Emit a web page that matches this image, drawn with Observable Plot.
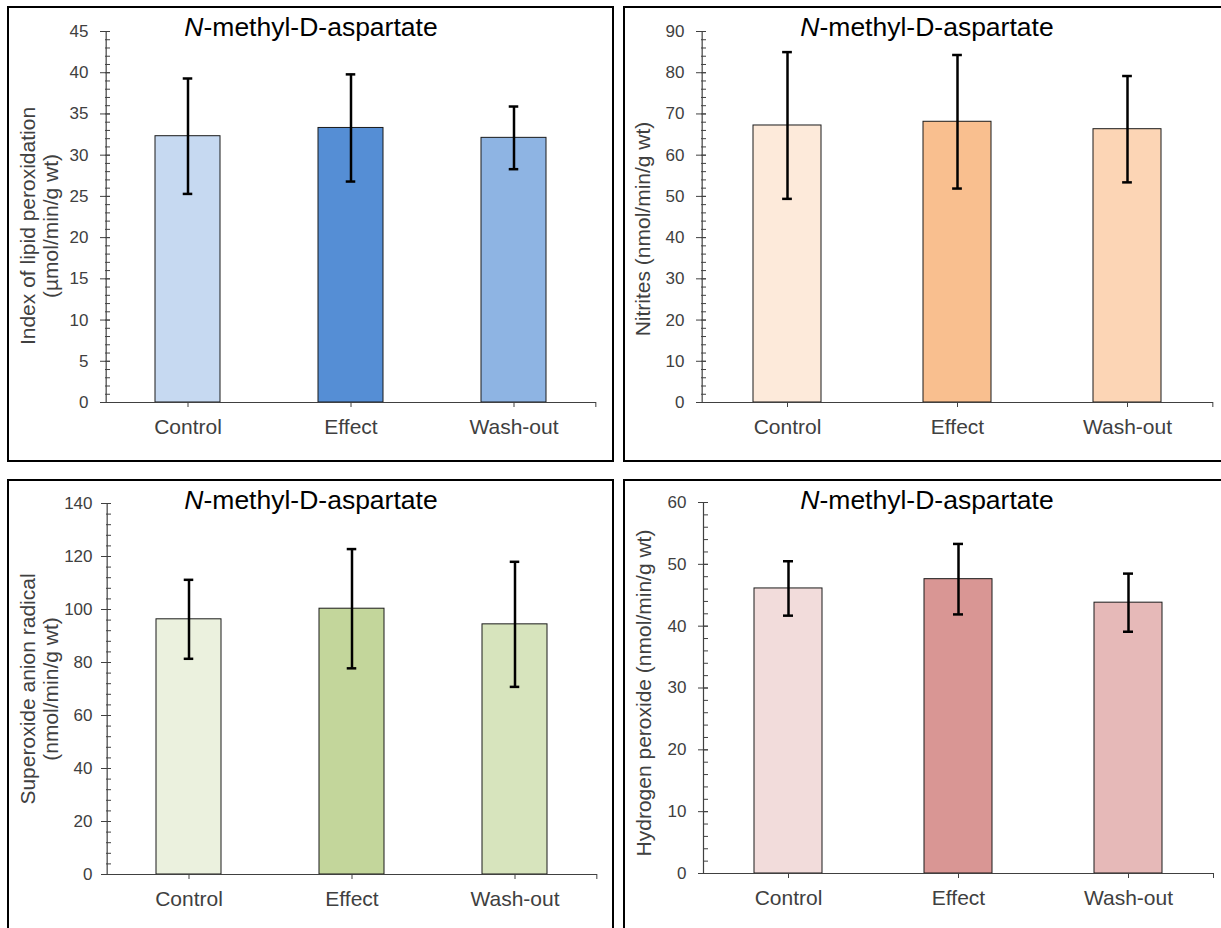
<!DOCTYPE html>
<html>
<head>
<meta charset="utf-8">
<script src="https://cdn.jsdelivr.net/npm/d3@7"></script>
<script src="https://cdn.jsdelivr.net/npm/@observablehq/plot@0.6"></script>
<style>
  html, body { margin: 0; padding: 0; background: #fff; }
  body { width: 1221px; height: 928px; overflow: hidden; position: relative;
         font-family: "Liberation Sans", Arial, sans-serif; }
  .panel { position: absolute; border: 2px solid #000; box-sizing: border-box; background: #fff; }
  .panel svg { position: absolute; left: 0; top: 0; }
  .title { position: absolute; left: 0; width: 604px; top: 6px; text-align: center;
           font-size: 26.5px; line-height: 26px; color: #000; z-index: 2; }
</style>
</head>
<body>
<div id="tl" class="panel" style="left:7px;top:6px;width:607px;height:456px"></div>
<div id="tr" class="panel" style="left:623px;top:6px;width:602px;height:456px"></div>
<div id="bl" class="panel" style="left:7px;top:479px;width:607px;height:456px"></div>
<div id="br" class="panel" style="left:623px;top:479px;width:602px;height:456px"></div>
<script>
// ---- data ----
const categories = ["Control", "Effect", "Wash-out"];

const lipidMeans = [32.3, 33.3, 32.1];
const lipidErrors = [7.0, 6.5, 3.8];

const nitriteMeans = [67.2, 68.1, 66.3];
const nitriteErrors = [17.8, 16.2, 12.9];

const superoxideMeans = [96.3, 100.3, 94.4];
const superoxideErrors = [14.9, 22.5, 23.6];

const peroxideMeans = [46.1, 47.6, 43.8];
const peroxideErrors = [4.4, 5.7, 4.7];

const chartTitle = "-methyl-D-aspartate";

// ---- styles ----
const bluePalette = ["#C6D9F1", "#558ED5", "#8EB4E3"];
const orangePalette = ["#FDEADA", "#F9BF8F", "#FCD5B5"];
const greenPalette = ["#EBF1DE", "#C3D69B", "#D7E4BD"];
const redPalette = ["#F2DCDB", "#D99694", "#E6B9B8"];

const axisColor = "#404040";
const font = '"Liberation Sans", Arial, sans-serif';

function drawPanel(cfg) {
  const el = document.getElementById(cfg.id);
  const W = cfg.width, H = 452;
  const rows = categories.map((c, i) => ({cat: c, mean: cfg.means[i], err: cfg.errors[i]}));
  const plotW = W - cfg.ml - cfg.mr;
  const step = plotW / categories.length;
  const capInset = (step * 0.4 - 10) / 2;
  const majors = d3.range(0, cfg.yMax + 1e-9, cfg.major);
  const minors = d3.range(0, cfg.yMax + 1e-9, cfg.major / 5);

  const chart = Plot.plot({
    width: W, height: H,
    marginLeft: cfg.ml, marginRight: cfg.mr, marginTop: cfg.mt, marginBottom: cfg.mb,
    style: {fontFamily: font, background: "transparent", overflow: "visible"},
    x: {domain: categories, paddingInner: 0.6, paddingOuter: 0.3},
    y: {domain: [0, cfg.yMax]},
    color: {domain: categories, range: cfg.palette},
    marks: [
      Plot.barY(rows, {x: "cat", y: "mean", fill: "cat", stroke: "#1a1a1a", strokeWidth: 1}),
      Plot.ruleX(rows, {x: "cat", y1: d => d.mean - d.err, y2: d => d.mean + d.err, stroke: "#000", strokeWidth: 2.5}),
      Plot.tickY(rows, {x: "cat", y: d => d.mean + d.err, insetLeft: capInset, insetRight: capInset, stroke: "#000", strokeWidth: 2.5}),
      Plot.tickY(rows, {x: "cat", y: d => d.mean - d.err, insetLeft: capInset, insetRight: capInset, stroke: "#000", strokeWidth: 2.5}),
      Plot.axisY({ticks: minors, tickSize: -5, text: null, label: null, color: axisColor}),
      Plot.axisY({ticks: majors, tickSize: -5, text: null, label: null, color: axisColor}),
      Plot.axisY({ticks: majors, tickSize: 5, tickPadding: cfg.tp, fontSize: 17, label: null, color: axisColor}),
      Plot.axisX({tickSize: 5, tickPadding: 12, fontSize: 21, label: null, color: axisColor}),
      Plot.axisX({ticks: [categories[categories.length - 1]], tickSize: 5, text: null, label: null, dx: step / 2, color: axisColor}),
      Plot.ruleY([0], {stroke: axisColor, strokeWidth: 1.2}),
      Plot.ruleX([categories[0]], {y1: 0, y2: cfg.yMax, dx: -step / 2, stroke: axisColor, strokeWidth: 1.2}),
      Plot.text([cfg.label], {text: d => d, frameAnchor: "left", textAnchor: "middle", lineAnchor: "middle",
        rotate: -90, dx: cfg.labelDx, dy: cfg.labelDy, fontSize: 21, lineHeight: 1.1, fill: axisColor})
    ]
  });
  el.appendChild(chart);
  const t = document.createElement("div");
  t.className = "title";
  const it = document.createElement("i");
  it.textContent = "N";
  t.appendChild(it);
  t.appendChild(document.createTextNode(chartTitle));
  el.appendChild(t);
}

drawPanel({id: "tl", width: 603, means: lipidMeans, errors: lipidErrors, palette: bluePalette,
  yMax: 45, major: 5, ml: 96, mr: 16, mt: 23, mb: 58, tp: 12,
  label: "Index of lipid peroxidation\n(µmol/min/g wt)", labelDx: -66, labelDy: 9});
drawPanel({id: "tr", width: 598, means: nitriteMeans, errors: nitriteErrors, palette: orangePalette,
  yMax: 90, major: 10, ml: 76, mr: 10, mt: 23, mb: 58, tp: 12,
  label: "Nitrites (nmol/min/g wt)", labelDx: -59, labelDy: 12});
drawPanel({id: "bl", width: 603, means: superoxideMeans, errors: superoxideErrors, palette: greenPalette,
  yMax: 140, major: 20, ml: 97, mr: 15, mt: 22, mb: 59, tp: 9,
  label: "Superoxide anion radical\n(nmol/min/g wt)", labelDx: -67, labelDy: 0});
drawPanel({id: "br", width: 598, means: peroxideMeans, errors: peroxideErrors, palette: redPalette,
  yMax: 60, major: 10, ml: 78, mr: 10, mt: 21, mb: 60, tp: 12,
  label: "Hydrogen peroxide (nmol/min/g wt)", labelDx: -60, labelDy: 5});
</script>
</body>
</html>
